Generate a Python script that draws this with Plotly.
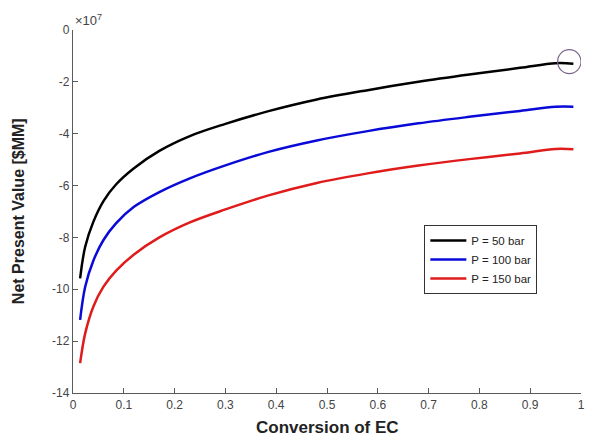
import plotly.graph_objects as go

# Data (y values in units of 10^7 $)
conversion = [0.014, 0.024, 0.04, 0.06, 0.085, 0.12, 0.17, 0.23, 0.30,
              0.385, 0.48, 0.58, 0.68, 0.78, 0.88, 0.95, 0.985]
npv_50 = [-9.58, -8.36, -7.40, -6.60, -5.95, -5.33, -4.66, -4.09, -3.62,
          -3.13, -2.68, -2.32, -2.00, -1.72, -1.46, -1.28, -1.30]
npv_100 = [-11.18, -9.90, -8.90, -8.10, -7.45, -6.82, -6.25, -5.72, -5.22,
           -4.70, -4.26, -3.90, -3.60, -3.35, -3.12, -2.96, -2.96]
npv_150 = [-12.85, -11.70, -10.67, -9.90, -9.28, -8.66, -8.00, -7.42, -6.92,
           -6.38, -5.90, -5.53, -5.23, -4.98, -4.76, -4.59, -4.60]
series_names = ["P = 50 bar", "P = 100 bar", "P = 150 bar"]
colors = ["#000000", "#0a0ad8", "#e01b1b"]

x_ticks = [0, 0.1, 0.2, 0.3, 0.4, 0.5, 0.6, 0.7, 0.8, 0.9, 1]
x_ticktext = ["0", "0.1", "0.2", "0.3", "0.4", "0.5", "0.6", "0.7", "0.8", "0.9", "1"]
y_ticks = [0, -2, -4, -6, -8, -10, -12, -14]
y_ticktext = ["0", "-2", "-4", "-6", "-8", "-10", "-12", "-14"]

fig = go.Figure()
for name, ys, c in zip(series_names, [npv_50, npv_100, npv_150], colors):
    fig.add_trace(go.Scatter(x=conversion, y=ys, mode="lines", name=name,
                             line=dict(color=c, width=2.5, shape="spline", smoothing=1.0)))

axis_col = "#5a5a5a"
fig.update_layout(
    width=590, height=443,
    margin=dict(l=73, r=5, t=30, b=50),
    paper_bgcolor="white", plot_bgcolor="white",
    font=dict(family="Liberation Sans, Arial", color="#444444", size=12),
    showlegend=True,
    legend=dict(x=0.6916, y=0.4628, xanchor="left", yanchor="top",
                bgcolor="white", bordercolor="#333333", borderwidth=1,
                font=dict(size=11.5, color="#222222"), tracegroupgap=0,
                itemwidth=36),
    xaxis=dict(range=[0, 1], tickvals=x_ticks, ticktext=x_ticktext,
               showline=True, linecolor=axis_col, linewidth=1.3,
               ticks="inside", ticklen=5, tickcolor=axis_col,
               showgrid=False, zeroline=False, tickfont=dict(size=12, color="#444444")),
    yaxis=dict(range=[-14, 0], tickvals=y_ticks, ticktext=y_ticktext,
               showline=True, linecolor=axis_col, linewidth=1.3,
               ticks="inside", ticklen=5, tickcolor=axis_col,
               showgrid=False, zeroline=False, tickfont=dict(size=12, color="#444444")),
)

fig.add_annotation(text="<b>Conversion of EC</b>", xref="paper", yref="paper",
                   x=0.5, y=-0.0964, yanchor="middle", showarrow=False,
                   font=dict(size=17, color="#222222"))
fig.add_annotation(text="<b>Net Present Value [$MM]</b>", xref="paper", yref="paper",
                   x=-0.107, y=0.5, textangle=-90, xanchor="center", yanchor="middle",
                   showarrow=False, font=dict(size=16, color="#222222"))
fig.add_annotation(text="\u00d710<sup>7</sup>", xref="paper", yref="paper",
                   x=0.0, y=1.0, xanchor="left", yanchor="bottom", showarrow=False,
                   font=dict(size=13, color="#444444"))
# highlight circle at end of the 50 bar curve
fig.add_shape(type="circle", xref="x", yref="y",
              x0=0.954, x1=1.0, y0=-1.68, y1=-0.76,
              line=dict(color="#7a6488", width=1.2))

fig.write_html("out.html")
